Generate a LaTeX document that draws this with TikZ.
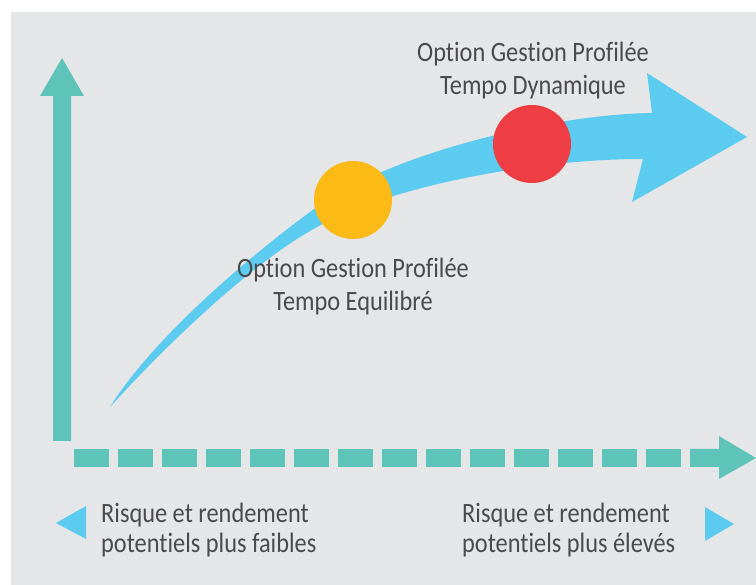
\documentclass[tikz,border=0pt]{standalone}
\usepackage{fontspec}
\setmainfont{Carlito}[FakeStretch=0.87,Ligatures={NoCommon,NoRare,NoContextual}]
\definecolor{bggrey}{HTML}{E5E6E8}
\definecolor{teal}{HTML}{5EC4BA}
\definecolor{skyblue}{HTML}{5BCBEF}
\definecolor{sunyellow}{HTML}{FBBA16}
\definecolor{ingred}{HTML}{EE3E43}
\definecolor{txtgrey}{HTML}{4A4A4C}
\begin{document}
\begin{tikzpicture}[x=1pt,y=-1pt,
  lbl/.style={anchor=base, inner sep=0pt, text=txtgrey, font=\fontsize{28}{33}\selectfont},
  lblw/.style={lbl, anchor=base west},
  dot/.style={circle, inner sep=0pt, minimum size=78pt},
  dashbox/.style={fill=teal}]
% canvas
\fill[white] (0,0) rectangle (756,585);
\fill[bggrey] (11,12) rectangle (756,585);
% vertical axis arrow
\fill[teal] (53,441) -- (53,96) -- (40,96) -- (62,58) -- (84,96) -- (71,96) -- (71,441) -- cycle;
% horizontal dashed axis arrow
\foreach \i in {0,...,13} {
  \fill[dashbox] ({74+44*\i},449) rectangle ({109+44*\i},467);
}
\fill[teal] (690,449) -- (719,449) -- (719,436) -- (756,458) -- (719,479) -- (719,467) -- (690,467) -- cycle;
% small direction triangles
\fill[skyblue] (56,523) -- (86,506) -- (86,539) -- cycle;
\fill[skyblue] (734,524) -- (705,507) -- (705,541) -- cycle;
% curved blue arrow
\fill[skyblue] (110,407)
  .. controls (155,335) and (257,250) .. (317,207)
  .. controls (397,150) and (560,114) .. (652,113)
  -- (647,73) -- (747,137) -- (632,202) -- (643,159)
  .. controls (543,159) and (397,183) .. (317,227)
  .. controls (247,265.5) and (160,352) .. (110,407) -- cycle;
% dots
\node[dot, fill=sunyellow] (eq) at (353,200) {};
\node[dot, fill=ingred] (dyn) at (532,144) {};
% labels
\node[lbl] (dyn1) at (533,62) {Option Gestion Profilée};
\node[lbl] (dyn2) at (533,95) {Tempo Dynamique};
\node[lbl] (eq1) at (353,278) {Option Gestion Profilée};
\node[lbl] (eq2) at (353,311) {Tempo Equilibré};
\node[lblw] (lo1) at (101,522) {Risque et rendement};
\node[lblw] (lo2) at (101,552) {potentiels plus faibles};
\node[lblw] (hi1) at (462,522) {Risque et rendement};
\node[lblw] (hi2) at (462,552) {potentiels plus élevés};
\end{tikzpicture}
\end{document}
